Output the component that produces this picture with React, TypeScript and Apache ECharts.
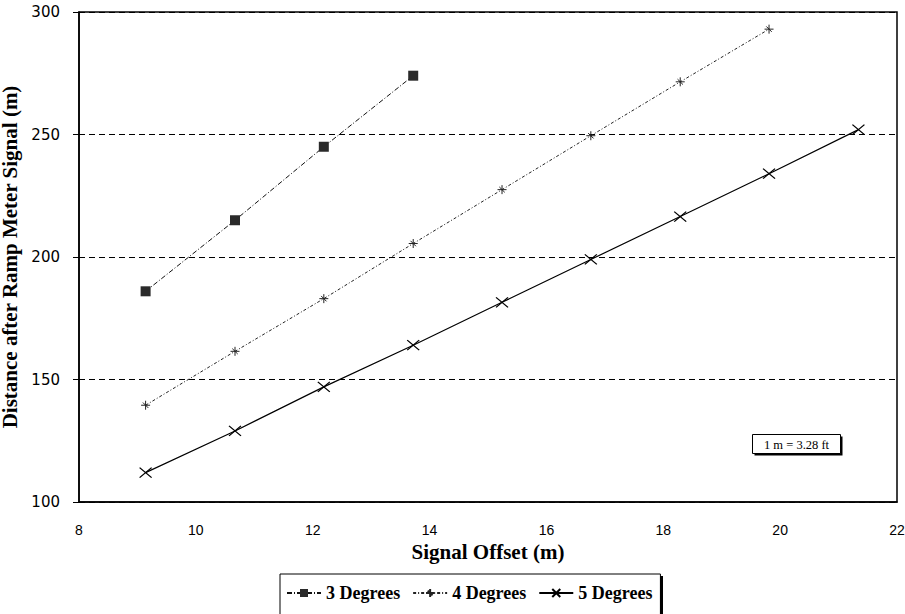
import React, { useEffect, useRef } from "react";
import * as echarts from "echarts";

const xOffsets = [9.14, 10.67, 12.19, 13.72, 15.24, 16.76, 18.29, 19.81, 21.34];
const deg3 = [186, 215, 245, 274];
const deg4 = [139.5, 161.5, 183, 205.5, 227.5, 249.5, 271.5, 293];
const deg5 = [112, 129, 147, 164, 181.5, 199, 216.5, 234, 252];
const seriesNames = ["3 Degrees", "4 Degrees", "5 Degrees"];
const xTicks = { min: 8, max: 22, interval: 2 };
const yTicks = { min: 100, max: 300, interval: 50 };
const note = "1 m = 3.28 ft";

const pairs = (vals: number[]) => vals.map((v, i) => [xOffsets[i], v]);

export default function App() {
  const ref = useRef<HTMLDivElement>(null);
  useEffect(() => {
    if (!ref.current) return;
    const chart = echarts.init(ref.current, null, { renderer: "svg" });
    const serif = "'Liberation Serif', 'Times New Roman', serif";
    chart.setOption({
      animation: false,
      backgroundColor: "#fff",
      grid: {
        left: 79,
        right: 8,
        top: 12,
        bottom: 112,
        containLabel: false,
        outerBoundsMode: "none",
        show: true,
        borderColor: "#000",
        borderWidth: 1.5,
        backgroundColor: "transparent",
      },
      xAxis: {
        type: "value",
        min: xTicks.min,
        max: xTicks.max,
        interval: xTicks.interval,
        name: "Signal Offset (m)",
        nameLocation: "middle",
        nameGap: 39,
        nameTextStyle: { fontFamily: serif, fontWeight: "bold", fontSize: 21, color: "#000" },
        axisLine: { lineStyle: { color: "#000", width: 1.5 } },
        axisTick: { show: false },
        axisLabel: { margin: 21, fontFamily: "'Liberation Sans', sans-serif", fontSize: 14, color: "#000" },
        splitLine: { show: false },
      },
      yAxis: {
        type: "value",
        min: yTicks.min,
        max: yTicks.max,
        interval: yTicks.interval,
        name: "Distance after Ramp Meter Signal (m)",
        nameLocation: "middle",
        nameGap: 49,
        nameTextStyle: { fontFamily: serif, fontWeight: "bold", fontSize: 21, color: "#000" },
        axisLine: { show: true, lineStyle: { color: "#000", width: 1.5 } },
        axisTick: { show: true, length: 6, lineStyle: { color: "#000" } },
        axisLabel: { margin: 19, fontFamily: "'DejaVu Sans', sans-serif", fontSize: 15, color: "#000" },
        splitLine: { show: true, lineStyle: { color: "#000", type: [6, 4], width: 1 } },
      },
      legend: {
        left: 280,
        top: 574,
        padding: [10, 8, 24, 6],
        itemGap: 12,
        itemWidth: 34,
        itemHeight: 10,
        borderColor: "#000",
        borderWidth: 1,
        backgroundColor: "#fff",
        textStyle: { fontFamily: serif, fontWeight: "bold", fontSize: 18, color: "#000" },
        data: seriesNames,
      },
      graphic: [
        { type: "rect", left: 660, top: 576, shape: { width: 3, height: 40 }, style: { fill: "#000" }, z: 100 },
        {
          type: "group",
          left: 752,
          top: 434,
          children: [
            { type: "rect", shape: { x: 2, y: 2, width: 88, height: 19 }, style: { fill: "#000" } },
            { type: "rect", shape: { x: 0, y: 0, width: 88, height: 19 }, style: { fill: "#fff", stroke: "#000", lineWidth: 1 } },
            {
              type: "text",
              x: 44,
              y: 10,
              style: { text: note, fontFamily: serif, fontSize: 12.5, fill: "#000", align: "center", verticalAlign: "middle" },
            },
          ],
        },
      ],
      series: [
        {
          name: seriesNames[0],
          type: "line",
          data: pairs(deg3),
          symbol: "rect",
          symbolSize: 10,
          itemStyle: { color: "#2a2a2a" },
          lineStyle: { color: "#111", width: 1, type: [5, 2, 1, 2] },
        },
        {
          name: seriesNames[1],
          type: "line",
          data: pairs(deg4),
          symbol: "path://M0,5L10,5M5,0L5,10M2,2L8,8",
          symbolSize: 9,
          itemStyle: { color: "none", borderColor: "#222", borderWidth: 1 },
          lineStyle: { color: "#222", width: 1, type: [3, 2, 1, 2] },
        },
        {
          name: seriesNames[2],
          type: "line",
          data: pairs(deg5),
          symbol: "path://M0,0L10,10M10,0L0,10",
          symbolSize: [12, 10],
          itemStyle: { color: "none", borderColor: "#000", borderWidth: 1.2 },
          lineStyle: { color: "#000", width: 1.2 },
        },
      ],
    });
    return () => chart.dispose();
  }, []);
  return (
    <div
      ref={ref}
      style={{ position: "absolute", left: 0, top: 0, width: 905, height: 614 }}
    />
  );
}
